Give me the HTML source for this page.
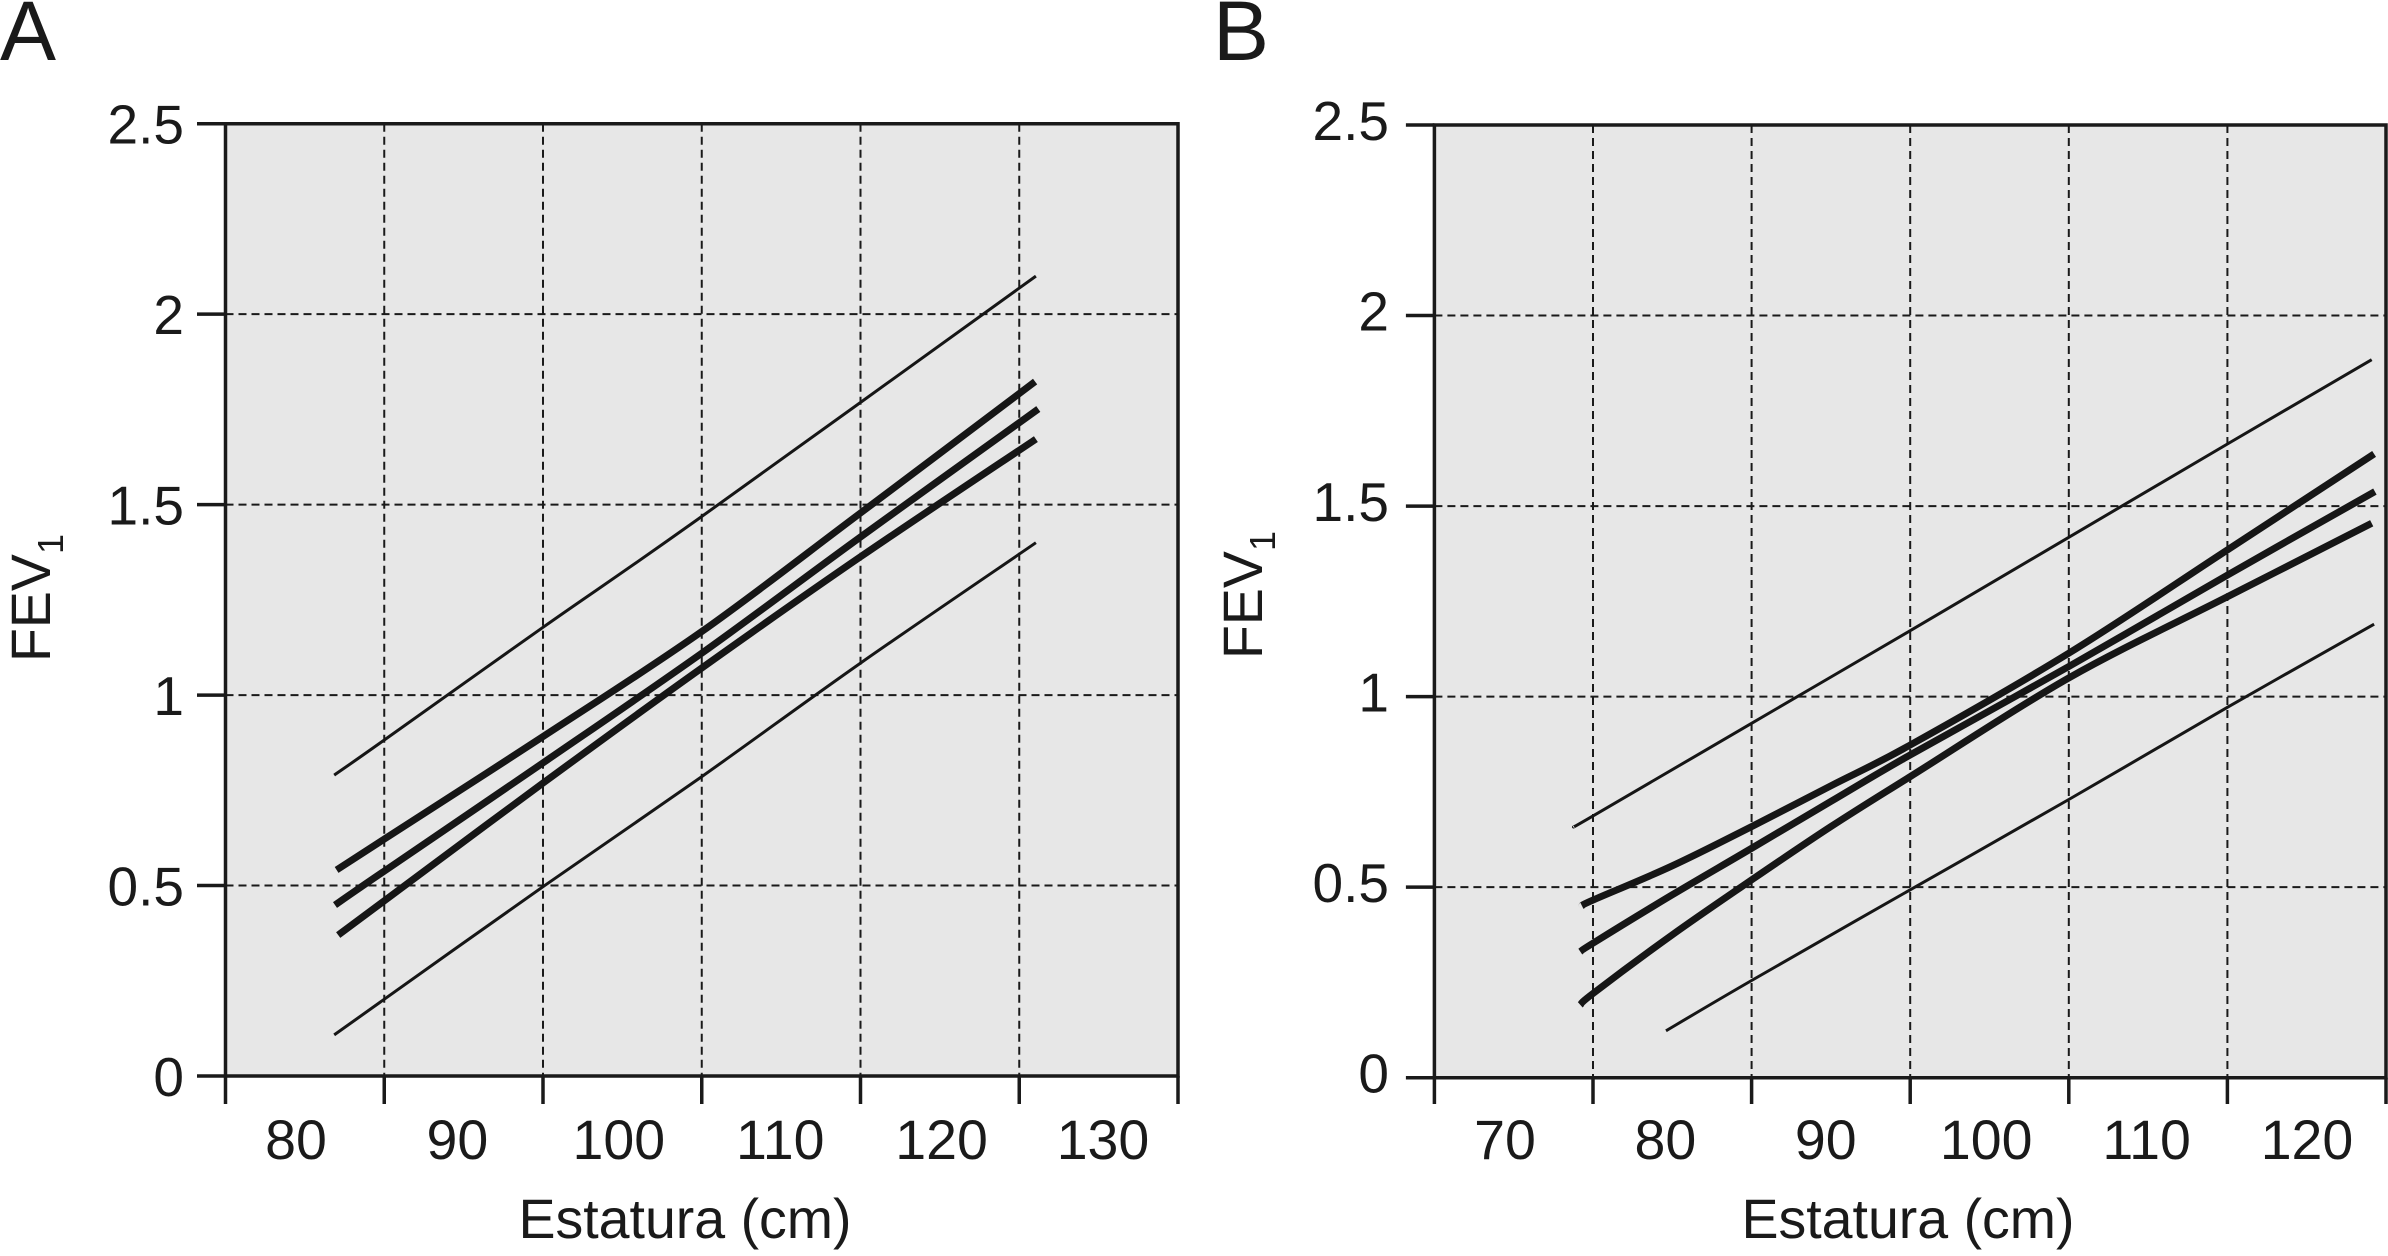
<!DOCTYPE html>
<html lang="es">
<head>
<meta charset="utf-8">
<title>FEV1 vs Estatura</title>
<style>
html,body{margin:0;padding:0;background:#fff;width:2388px;height:1256px;overflow:hidden}
svg{display:block}
text{font-family:"Liberation Sans",sans-serif;fill:#1a1a1a}
</style>
</head>
<body>
<svg id="chart" width="2388" height="1256" viewBox="0 0 2388 1256" xmlns="http://www.w3.org/2000/svg"></svg>
<script>
// Shared tick values and labels
const yTicks = [0, 0.5, 1, 1.5, 2, 2.5];
const yTickLabels = ["0", "0.5", "1", "1.5", "2", "2.5"];

// Panel A data
const xGridA = [75, 85, 95, 105, 115, 125, 135];
const xLabelsA = [80, 90, 100, 110, 120, 130];
const aUpperThinX = [81.85, 85, 95, 104.7, 126.05];
const aUpperThinY = [0.79, 0.882, 1.178, 1.46, 2.10];
const aUpperX = [82, 85, 95, 105, 115, 126];
const aUpperY = [0.541, 0.622, 0.891, 1.167, 1.478, 1.823];
const aMiddleX = [81.9, 85, 95, 105, 115, 126.2];
const aMiddleY = [0.449, 0.538, 0.822, 1.11, 1.415, 1.751];
const aLowerX = [82.1, 85, 95, 105, 115, 126.05];
const aLowerY = [0.37, 0.46, 0.769, 1.071, 1.363, 1.672];
const aLowerThinX = [81.85, 95, 105, 115, 126.05];
const aLowerThinY = [0.108, 0.497, 0.786, 1.084, 1.40];

// Panel B data
const xGridB = [65, 75, 85, 95, 105, 115, 125];
const xLabelsB = [70, 80, 90, 100, 110, 120];
const bUpperThinX = [73.8, 75, 85, 95, 105, 115, 124.1];
const bUpperThinY = [0.659, 0.687, 0.93, 1.173, 1.418, 1.663, 1.884];
const bUpperX = [74.3, 75, 80, 85, 90, 95, 105, 115, 124.25];
const bUpperY = [0.451, 0.466, 0.556, 0.659, 0.766, 0.873, 1.114, 1.385, 1.637];
const bMiddleX = [74.2, 75, 80, 85, 90, 95, 105, 115, 124.3];
const bMiddleY = [0.331, 0.353, 0.48, 0.602, 0.725, 0.847, 1.079, 1.319, 1.538];
const bLowerX = [74.2, 75, 80, 85, 90, 95, 105, 115, 124.1];
const bLowerY = [0.191, 0.221, 0.375, 0.519, 0.659, 0.79, 1.049, 1.262, 1.455];
const bLowerThinX = [79.6, 85, 95, 105, 115, 124.25];
const bLowerThinY = [0.123, 0.255, 0.493, 0.73, 0.972, 1.19];

const NS = "http://www.w3.org/2000/svg";
const INK = "#1a1a1a";
const svg = document.getElementById("chart");

function make(tag, attrs, parent) {
  const el = document.createElementNS(NS, tag);
  for (const k in attrs) el.setAttribute(k, attrs[k]);
  parent.appendChild(el);
  return el;
}

// Smooth (Catmull-Rom) path through the data points
function smoothPath(p) {
  let d = "M" + p[0][0].toFixed(1) + " " + p[0][1].toFixed(1);
  for (let i = 0; i < p.length - 1; i++) {
    const p0 = p[Math.max(i - 1, 0)], p1 = p[i], p2 = p[i + 1], p3 = p[Math.min(i + 2, p.length - 1)];
    const c1x = p1[0] + (p2[0] - p0[0]) / 6, c1y = p1[1] + (p2[1] - p0[1]) / 6;
    const c2x = p2[0] - (p3[0] - p1[0]) / 6, c2y = p2[1] - (p3[1] - p1[1]) / 6;
    d += "C" + c1x.toFixed(1) + " " + c1y.toFixed(1) + " " + c2x.toFixed(1) + " " + c2y.toFixed(1) + " " + p2[0].toFixed(1) + " " + p2[1].toFixed(1);
  }
  return d;
}

function drawPanel(cfg) {
  const g = make("g", {}, svg);
  
  

  const xMin = cfg.xGrid[0], xMax = cfg.xGrid[cfg.xGrid.length - 1];
  const X = v => cfg.left + (v - xMin) * (cfg.right - cfg.left) / (xMax - xMin);
  const Y = v => cfg.bottom - v * (cfg.bottom - cfg.top) / 2.5;

  const bg = make("rect", {x: cfg.left, y: cfg.top, width: cfg.right - cfg.left, height: cfg.bottom - cfg.top, fill: "#e7e7e7"}, g);
  
  

  // horizontal grid
  yTicks.forEach(v => {
    if (v === 0 || v === 2.5) return;
    const l = make("line", {x1: cfg.left, x2: cfg.right, y1: Y(v), y2: Y(v), stroke: INK, "stroke-width": 2, "stroke-dasharray": "8 5"}, g);
    
    
  });
  // vertical grid
  cfg.xGrid.forEach((v, i) => {
    if (i === 0 || i === cfg.xGrid.length - 1) return;
    const l = make("line", {x1: X(v), x2: X(v), y1: cfg.top, y2: cfg.bottom, stroke: INK, "stroke-width": 2, "stroke-dasharray": "8 5"}, g);
    
    
  });

  // frame
  const frame = make("path", {d: "M" + cfg.left + " " + cfg.top + "H" + cfg.right + "V" + cfg.bottom + "H" + cfg.left + "Z", fill: "none", stroke: INK, "stroke-width": 3.5}, g);
  
  

  // y ticks and labels
  yTicks.forEach((v, i) => {
    const t = make("line", {x1: cfg.left - 28.5, x2: cfg.left, y1: Y(v), y2: Y(v), stroke: INK, "stroke-width": 3.5}, g);
    
    
    const lab = make("text", {x: cfg.yLabelRight, y: Y(v) + cfg.yLabelDy, "font-size": 55, "text-anchor": "end"}, g);
    lab.textContent = yTickLabels[i];
    
    
  });

  // x ticks
  cfg.xGrid.forEach(v => {
    const t = make("line", {x1: X(v), x2: X(v), y1: cfg.bottom, y2: 1104, stroke: INK, "stroke-width": 3.5}, g);
    
    
  });
  // x labels
  cfg.xLabels.forEach(v => {
    const lab = make("text", {x: cfg.labelX0 + (v - cfg.xLabels[0]) * cfg.labelStep, y: 1159, "font-size": 55.5, "text-anchor": "middle"}, g);
    lab.textContent = String(v);
    
    
  });

  // series
  cfg.series.forEach(s => {
    const pts = s.xs.map((x, i) => [X(x), Y(s.ys[i])]);
    const line = make("path", {d: smoothPath(pts), fill: "none", stroke: "#161616", "stroke-width": s.w, "stroke-linejoin": "round", "stroke-linecap": "butt"}, g);
    
    
  });

  // titles
  const xt = make("text", {x: cfg.xTitleX, y: 1238, "font-size": 55.5, "text-anchor": "middle"}, g);
  xt.textContent = "Estatura (cm)";
  
  

  const yt = make("text", {transform: "translate(" + cfg.yTitleX + "," + cfg.yTitleY + ") rotate(-90)", "font-size": 55.5}, g);
  
  
  yt.appendChild(document.createTextNode("FEV"));
  const sub = make("tspan", {"font-size": 36, dy: 13}, yt);
  sub.textContent = "1";

  const letter = make("text", {x: cfg.letterX, y: 60, "font-size": 84}, g);
  letter.textContent = cfg.letter;
  
  
}

drawPanel({
  id: "a", letter: "A", letterX: 0,
  left: 225.5, right: 1178, top: 123.7, bottom: 1076,
  xGrid: xGridA, xLabels: xLabelsA, labelX0: 296, labelStep: 16.14,
  yLabelRight: 184, yLabelDy: 20,
  xTitleX: 685, yTitleX: 50, yTitleY: 662,
  series: [
    {name: "upper-limit-line", xs: aUpperThinX, ys: aUpperThinY, w: 3},
    {name: "upper-confidence-line", xs: aUpperX, ys: aUpperY, w: 7},
    {name: "mean-line", xs: aMiddleX, ys: aMiddleY, w: 7},
    {name: "lower-confidence-line", xs: aLowerX, ys: aLowerY, w: 7},
    {name: "lower-limit-line", xs: aLowerThinX, ys: aLowerThinY, w: 3}
  ]
});

drawPanel({
  id: "b", letter: "B", letterX: 1213,
  left: 1434.4, right: 2386, top: 125, bottom: 1077.7,
  xGrid: xGridB, xLabels: xLabelsB, labelX0: 1505, labelStep: 16.04,
  yLabelRight: 1389, yLabelDy: 15,
  xTitleX: 1908, yTitleX: 1262, yTitleY: 659,
  series: [
    {name: "upper-limit-line", xs: bUpperThinX, ys: bUpperThinY, w: 3},
    {name: "upper-confidence-line", xs: bUpperX, ys: bUpperY, w: 7},
    {name: "mean-line", xs: bMiddleX, ys: bMiddleY, w: 7},
    {name: "lower-confidence-line", xs: bLowerX, ys: bLowerY, w: 7},
    {name: "lower-limit-line", xs: bLowerThinX, ys: bLowerThinY, w: 3}
  ]
});
</script>
</body>
</html>
